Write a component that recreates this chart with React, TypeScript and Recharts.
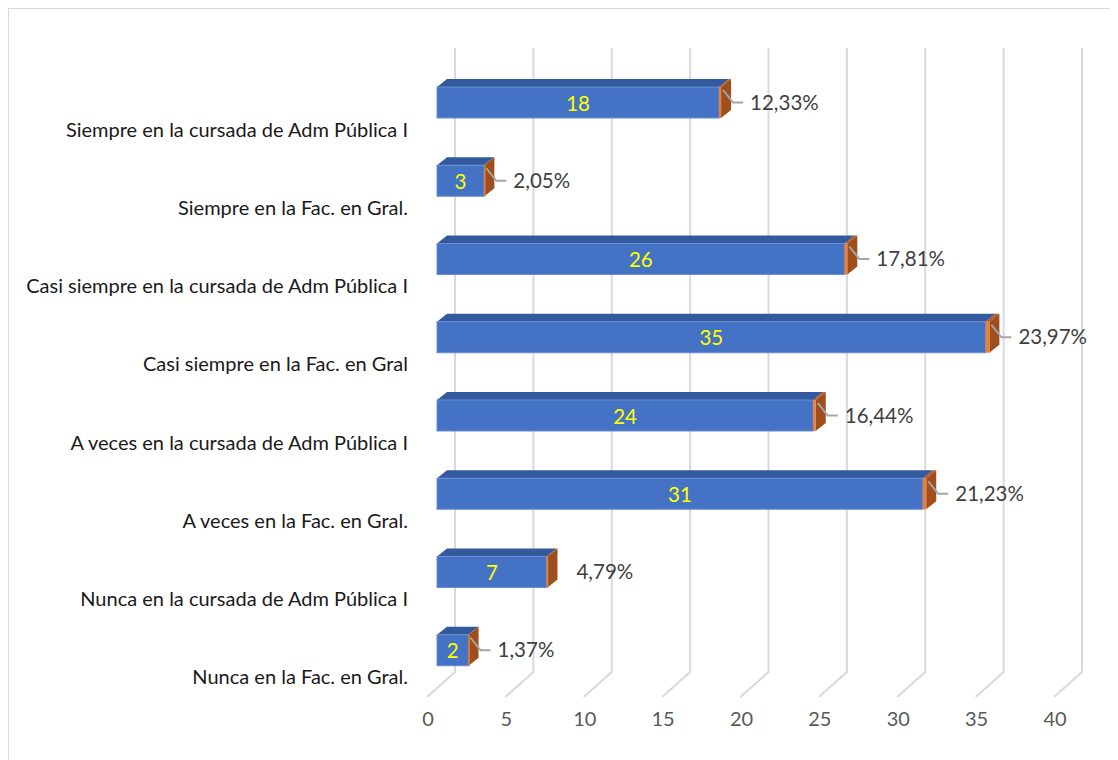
import React from "react";
import { BarChart, Bar, XAxis, YAxis, CartesianGrid, LabelList } from "recharts";

const categories = [
  "Siempre en la cursada de Adm Pública I",
  "Siempre en la Fac. en Gral.",
  "Casi siempre en la cursada de Adm Pública I",
  "Casi siempre en la Fac. en Gral",
  "A veces en la cursada de Adm Pública I",
  "A veces en la Fac. en Gral.",
  "Nunca en la cursada de Adm Pública I",
  "Nunca en la Fac. en Gral.",
];
const counts = [18, 3, 26, 35, 24, 31, 7, 2];
const percents = [12.33, 2.05, 17.81, 23.97, 16.44, 21.23, 4.79, 1.37];
const xTicks = [0, 5, 10, 15, 20, 25, 30, 35, 40];
const noLeader = [6];

const data = categories.map((name, i) => ({
  name,
  count: counts[i],
  frac: percents[i] / 100,
  pctLabel: percents[i].toFixed(2).replace(".", ",") + "%",
}));

const FONT = "Lato, Carlito, Calibri, sans-serif";
const D = 10; // depth x
const E = 8; // depth y

const BlueShape = (p: any) => {
  const { x, y, width: w, height: h } = p;
  return (
    <g>
      <polygon
        points={`${x},${y} ${x + D},${y - E} ${x + w + D},${y - E} ${x + w},${y}`}
        fill="#335A9E"
      />
      <rect x={x} y={y} width={w} height={h} fill="#4472C4" stroke="#6A8ED2" strokeWidth={1} />
    </g>
  );
};

const OrangeShape = (p: any) => {
  const { x, y, width: w, height: h } = p;
  return (
    <g>
      <polygon
        points={`${x},${y} ${x + D},${y - E} ${x + w + D},${y - E} ${x + w},${y}`}
        fill="#B35A1F"
      />
      <polygon
        points={`${x + w},${y} ${x + w + D},${y - E} ${x + w + D},${y + h - E} ${x + w},${y + h}`}
        fill="#9E4F1D"
      />
      <rect x={x} y={y} width={Math.max(w, 1.5)} height={h} fill="#ED7D31" />
    </g>
  );
};

const PctLabel = (p: any) => {
  const { x, y, width: w, height: h, index, value } = p;
  const end = x + w;
  const cy = y + h / 2;
  return (
    <g>
      {!noLeader.includes(index) && (
        <polyline
          points={`${end + 2},${y + 3} ${end + 12},${cy} ${end + 22},${cy}`}
          fill="none"
          stroke="#A6A6A6"
          strokeWidth={2}
        />
      )}
      <text x={end + 29} y={cy + 7} fill="#404040" fontSize={20.5} fontFamily={FONT}>
        {value}
      </text>
    </g>
  );
};

const CountLabel = (p: any) => {
  const { x, y, width: w, height: h, value } = p;
  return (
    <text
      x={x + w / 2}
      y={y + h / 2 + 8}
      textAnchor="middle"
      fill="#FFFF00"
      fontSize={20.5}
      fontFamily={FONT}
    >
      {value}
    </text>
  );
};

const GridLine = (p: any) => {
  const { x1, y1, y2 } = p;
  const bx = x1 + 18;
  return (
    <g>
      <polyline
        points={`${bx},${y1 - 15} ${bx},${y2 - 17} ${x1 - 10},${y2 + 8}`}
        fill="none"
        stroke="#D9D9D9"
        strokeWidth={2}
      />
    </g>
  );
};

const XTick = (p: any) => {
  const { x, y, payload } = p;
  return (
    <text x={x - 9} y={y + 29} textAnchor="middle" fill="#595959" fontSize={20} fontFamily={FONT}>
      {payload.value}
    </text>
  );
};

const YTick = (p: any) => {
  const { x, y, payload } = p;
  return (
    <text x={x - 21} y={y + 34.5} textAnchor="end" fill="#1A1A1A" fontSize={20} fontFamily={FONT}>
      {payload.value}
    </text>
  );
};

export default function App() {
  return (
    <div
      style={{
        width: 1110,
        height: 752,
        borderLeft: "1px solid #D9D9D9",
        borderTop: "1px solid #D9D9D9",
        boxSizing: "border-box",
        overflow: "hidden",
        background: "#fff",
      }}
    >
      <BarChart
        width={1109}
        height={751}
        data={data}
        layout="vertical"
        margin={{ top: 54, right: 54, bottom: 31, left: 8 }}
        barSize={31}
      >
        <CartesianGrid horizontal={false} vertical={GridLine} />
        <XAxis
          type="number"
          domain={[0, 40]}
          ticks={xTicks}
          axisLine={false}
          tickLine={false}
          height={40}
          tick={XTick}
          interval={0}
        />
        <YAxis
          type="category"
          dataKey="name"
          width={420}
          axisLine={false}
          tickLine={false}
          tick={YTick}
          interval={0}
        />
        <Bar dataKey="count" stackId="a" shape={BlueShape} isAnimationActive={false}>
          <LabelList dataKey="count" content={CountLabel} />
        </Bar>
        <Bar dataKey="frac" stackId="a" shape={OrangeShape} isAnimationActive={false}>
          <LabelList dataKey="pctLabel" content={PctLabel} />
        </Bar>
      </BarChart>
    </div>
  );
}
